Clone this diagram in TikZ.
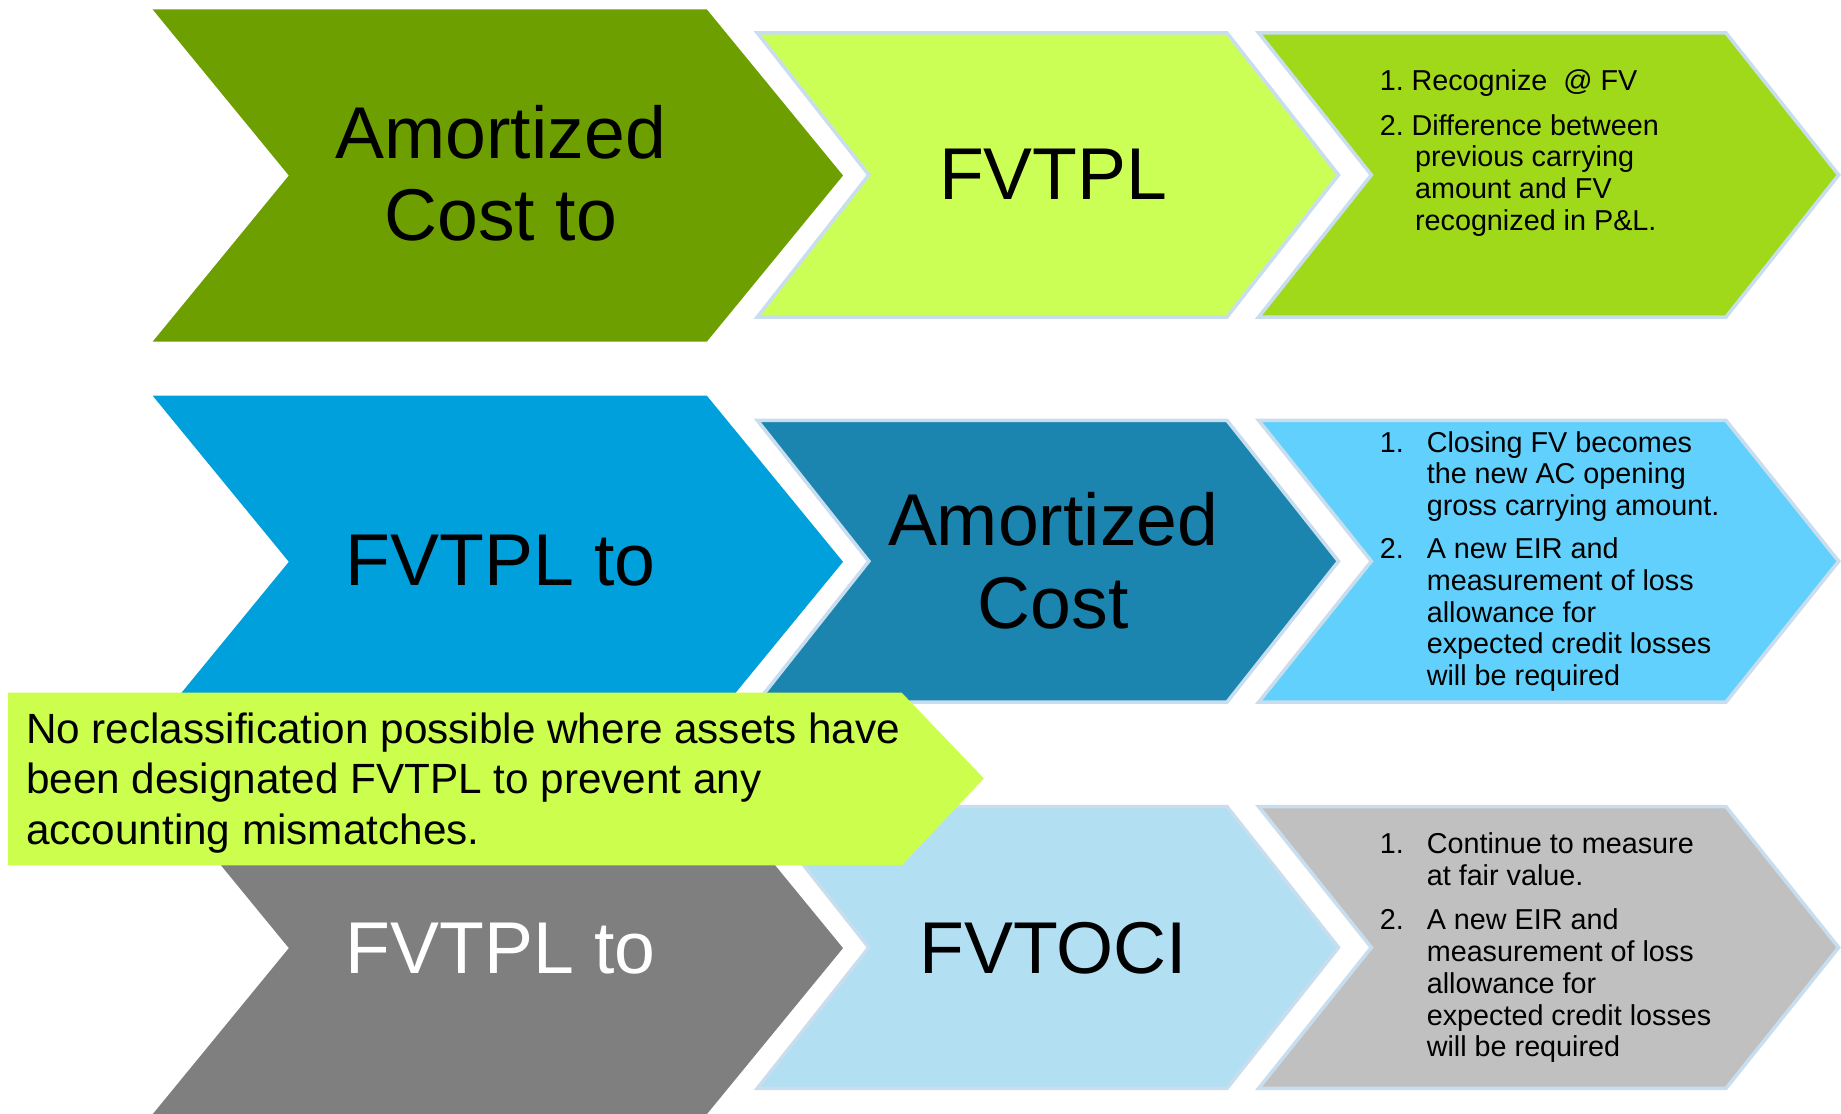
\documentclass[tikz,border=0pt]{standalone}
\usepackage{fontspec}
\setmainfont{Liberation Sans}
\definecolor{cA1}{HTML}{6E9F00}
\definecolor{cB1}{HTML}{CCFF55}
\definecolor{cC1}{HTML}{A0D81A}
\definecolor{cA2}{HTML}{00A0DC}
\definecolor{cB2}{HTML}{1B85AF}
\definecolor{cC2}{HTML}{62D0FC}
\definecolor{cA3}{HTML}{7F7F7F}
\definecolor{cB3}{HTML}{B2DFF2}
\definecolor{cC3}{HTML}{C0C0C0}
\definecolor{cCall}{HTML}{CCFF4D}
\definecolor{bord}{HTML}{C8DDEE}
\newcommand{\drawchev}[6]{%
  \path[#1] (#2,#4) -- (#3,#4) -- ({#3+#6},{(#4+#5)/2}) -- (#3,#5) -- (#2,#5) -- ({#2+#6},{(#4+#5)/2}) -- cycle;}
\tikzset{
  chevbig/.style={draw=none},
  chevsmall/.style={draw=bord, line width=3pt, line join=miter},
  bigtxt/.style={font=\fontsize{62.5}{70}\selectfont, inner sep=0pt, align=center},
  smalltxt/.style={font=\fontsize{24.5}{27}\selectfont, inner sep=0pt, align=left},
  calltxt/.style={font=\fontsize{36}{43}\selectfont, inner sep=0pt, align=left}
}
\begin{document}
\begin{tikzpicture}[x=1pt,y=-1pt]
\useasboundingbox[fill=white] (0,0) rectangle (1568,948);
% row 1
\drawchev{chevbig, fill=cA1}{130}{602}{8}{291}{116}
\drawchev{chevsmall, fill=cB1}{645}{1045}{28}{270}{95}
\drawchev{chevsmall, fill=cC1}{1072}{1470}{28}{270}{96}
% row 2
\drawchev{chevbig, fill=cA2}{130}{602}{337}{620}{116}
\drawchev{chevsmall, fill=cB2}{645}{1045}{358}{598}{95}
\drawchev{chevsmall, fill=cC2}{1072}{1470}{358}{598}{96}
% row 3
\drawchev{chevbig, fill=cA3}{130}{602}{666}{949}{116}
\drawchev{chevsmall, fill=cB3}{645}{1045}{687}{927}{95}
\drawchev{chevsmall, fill=cC3}{1072}{1470}{687}{927}{96}

% big texts (base anchor = baseline of last line)
\node[bigtxt, anchor=base] (a1t) at (426.5,205) {Amortized\\Cost to};
\node[bigtxt, anchor=base] (b1t) at (897,170) {FVTPL};
\node[bigtxt, anchor=base] (a2t) at (426.5,499) {FVTPL to};
\node[bigtxt, anchor=base] (b2t) at (897,535) {Amortized\\Cost};
\node[bigtxt, anchor=base, text=white] (a3t) at (426.5,829) {FVTPL to};
\node[bigtxt, anchor=base] (b3t) at (897,829) {FVTOCI};

% row 1 list
\node[smalltxt, anchor=base west] (c1n1) at (1175,77) {1.};
\node[smalltxt, anchor=base west] (c1t1) at (1202,77) {Recognize\ \ @ FV};
\node[smalltxt, anchor=base west] (c1n2) at (1175,115) {2.};
\node[smalltxt, anchor=base west] (c1t2) at (1202,196) {Difference between\\\hspace*{3pt}previous carrying\\\hspace*{3pt}amount and FV\\\hspace*{3pt}recognized in P\&L.};

% row 2 list
\node[smalltxt, anchor=base west] (c2n1) at (1175,385) {1.};
\node[smalltxt, anchor=base west] (c2t1) at (1215,439) {Closing FV becomes\\the new AC opening\\gross carrying amount.};
\node[smalltxt, anchor=base west] (c2n2) at (1175,476) {2.};
\node[smalltxt, anchor=base west] (c2t2) at (1215,584) {A new EIR and\\measurement of loss\\allowance for\\expected credit losses\\will be required};

% row 3 list
\node[smalltxt, anchor=base west] (c3n1) at (1175,727) {1.};
\node[smalltxt, anchor=base west] (c3t1) at (1215,754) {Continue to measure\\at fair value.};
\node[smalltxt, anchor=base west] (c3n2) at (1175,792) {2.};
\node[smalltxt, anchor=base west] (c3t2) at (1215,900) {A new EIR and\\measurement of loss\\allowance for\\expected credit losses\\will be required};

% callout
\path[fill=cCall] (7,590) -- (768,590) -- (838,663) -- (768,737) -- (7,737) -- cycle;
\node[calltxt, anchor=base west] (callt) at (22,719) {No reclassification possible where assets have\\been designated FVTPL to prevent any\\accounting mismatches.};
\end{tikzpicture}
\end{document}
